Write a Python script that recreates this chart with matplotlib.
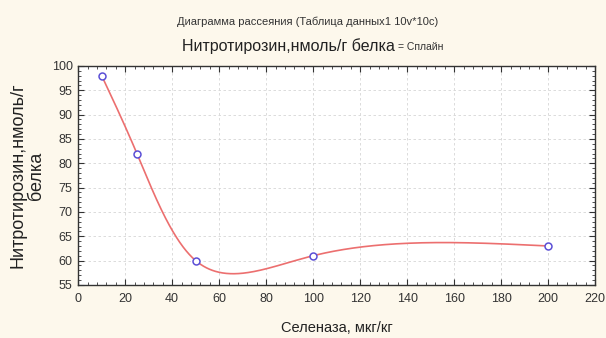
import numpy as np
import matplotlib.pyplot as plt
from matplotlib.ticker import MultipleLocator

# data
selenase = [10, 25, 50, 100, 200]
nitrotyrosine = [98, 82, 60, 61, 63]

plt.rcParams['font.family'] = ['Liberation Sans', 'DejaVu Sans']


def natural(t, v, ts):
    # natural cubic spline of v(t)
    n = len(t)
    h = np.diff(t)
    A = np.zeros((n, n))
    b = np.zeros(n)
    A[0, 0] = A[-1, -1] = 1
    for i in range(1, n - 1):
        A[i, i - 1] = h[i - 1]
        A[i, i] = 2 * (h[i - 1] + h[i])
        A[i, i + 1] = h[i]
        b[i] = 3 * ((v[i + 1] - v[i]) / h[i] - (v[i] - v[i - 1]) / h[i - 1])
    c = np.linalg.solve(A, b)
    idx = np.clip(np.searchsorted(t, ts) - 1, 0, n - 2)
    dx = ts - t[idx]
    bb = (v[1:] - v[:-1]) / h - h * (2 * c[:-1] + c[1:]) / 3
    d = (c[1:] - c[:-1]) / (3 * h)
    return v[idx] + bb[idx] * dx + c[idx] * dx ** 2 + d[idx] * dx ** 3


def spline_curve(x, y, alpha=0.65, num=800):
    # parametric spline through the points
    x = np.asarray(x, float)
    y = np.asarray(y, float)
    seg = np.hypot(np.diff(x), np.diff(y)) ** alpha
    t = np.concatenate([[0], np.cumsum(seg)])
    ts = np.linspace(0, t[-1], num)
    return natural(t, x, ts), natural(t, y, ts)


fig = plt.figure(figsize=(6.06, 3.38), dpi=100, facecolor='#fdf8ec')
ax = fig.add_axes([0.129, 0.157, 0.853, 0.648])
ax.set_facecolor('white')

cx, cy = spline_curve(selenase, nitrotyrosine)
ax.plot(cx, cy, color='#ec6f6f', lw=1.2)
ax.plot(selenase, nitrotyrosine, 'o', ms=5, mfc='white', mec='#5b4fd6', mew=1.1)

ax.set_xlim(0, 220)
ax.set_ylim(55, 100)
ax.xaxis.set_major_locator(MultipleLocator(20))
ax.xaxis.set_minor_locator(MultipleLocator(4))
ax.yaxis.set_major_locator(MultipleLocator(5))
ax.yaxis.set_minor_locator(MultipleLocator(1))
ax.tick_params(which='both', direction='in', top=True, right=True,
               labelsize=9, color='#333333', labelcolor='#333333')
ax.tick_params(axis='x', pad=6)
ax.tick_params(axis='y', pad=4)
ax.tick_params(which='major', length=4)
ax.tick_params(which='minor', length=2)
ax.grid(which='major', ls=(0, (3, 3)), color='#d6d6d6', lw=0.6)
for s in ax.spines.values():
    s.set_color('#333333')
    s.set_linewidth(1.0)

ax.set_xlabel('Селеназа, мкг/кг', fontsize=10.5, color='#222222', labelpad=11)
ax.set_ylabel('Нитротирозин,нмоль/г\nбелка', fontsize=13, color='#222222',
              labelpad=5, linespacing=1.1)

fig.text(0.508, 0.935, 'Диаграмма рассеяния (Таблица данных1 10v*10c)',
         ha='center', va='center', fontsize=8, color='#333333')
fig.text(0.652, 0.865, 'Нитротирозин,нмоль/г белка', ha='right', va='center',
         fontsize=11.5, color='#222222')
fig.text(0.657, 0.862, '= Сплайн', ha='left', va='center', fontsize=7.5,
         color='#333333')

fig.savefig('out.png', dpi=100, facecolor=fig.get_facecolor())
